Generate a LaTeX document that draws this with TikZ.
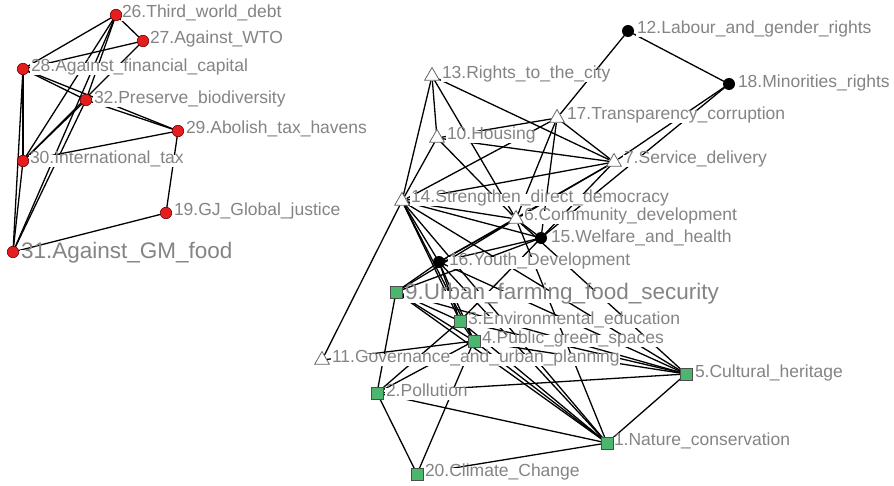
\documentclass[tikz,border=0pt]{standalone}
\usepackage{fontspec}
\setmainfont{Liberation Sans}
\usetikzlibrary{shapes.geometric}
\definecolor{lab}{RGB}{132,132,132}
\definecolor{redn}{RGB}{228,30,30}
\definecolor{greenn}{RGB}{76,182,110}
\tikzset{
 lbl/.style={anchor=west, fill=white, text=lab, inner xsep=0.8pt, inner ysep=1pt, text height=0.8em, text depth=0.22em, font=\fontsize{17.5}{20}\selectfont},
 biglbl/.style={lbl, font=\fontsize{22.5}{26}\selectfont},
 anc/.style={circle, minimum size=10pt, inner sep=0pt},
 rednode/.style={circle, fill=redn, draw=red!45!black, line width=0.6pt, minimum size=11.5pt, inner sep=0pt},
 blknode/.style={circle, fill=black, minimum size=12pt, inner sep=0pt},
 trinode/.style={regular polygon, regular polygon sides=3, fill=white, draw=gray!80!black, line width=0.8pt, minimum size=17pt, inner sep=0pt},
 sqnode/.style={rectangle, fill=greenn, draw=gray!60!black, line width=0.6pt, minimum size=12pt, inner sep=0pt},
 edge/.style={line width=1.3pt, black},
}
\begin{document}
\begin{tikzpicture}[x=1pt,y=-1pt]
\useasboundingbox (0,0) rectangle (894,486);
% node positions (anchors for connectors)
\foreach \n/\x/\y in {26/116/15,27/143/41,28/23/69,32/86/100,29/178/131,30/23/161,19/166/213,31/13/252,
 12/628/31,18/729/84,15/541/238,16/439/262,13/432/76,17/557/118,10/437/138,7/614/162,14/402/201,6/516/219,11/322/360,
 9/396/292,3/460/321,4/474/341,5/686/374,2/377/393,1/607/443,20/417/474}
 \node[anc] (n\n) at (\x,\y) {};
% connectors
\foreach \a/\b in {26/27,26/28,26/32,26/30,26/31,27/28,27/30,28/32,28/29,32/29,28/30,28/31,29/30,29/19,19/31,32/30,32/31,30/31,
 12/17,12/18,18/7,18/15,
 13/10,13/14,13/6,13/7,
 10/14,10/7,10/6,
 17/7,17/14,17/10,17/6,17/15,
 7/14,7/6,7/15,7/16,
 14/6,14/15,14/16,14/11,14/3,14/4,14/5,14/1,
 6/15,6/16,6/9,6/5,6/1,
 15/16,15/9,15/3,
 16/9,16/3,16/4,16/5,16/1,
 9/3,9/4,9/2,9/5,9/1,
 3/4,3/2,3/5,3/1,
 4/11,4/2,4/5,4/1,4/20,
 2/20,2/5,2/1,
 20/1,5/1}
 \draw[edge] (n\a) -- (n\b);
% labels
\node[lbl] (l26) at (121,15) {26.Third\_world\_debt};
\node[lbl] (l27) at (149,41) {27.Against\_WTO};
\node[lbl] (l28) at (30,69) {28.Against\_financial\_capital};
\node[lbl] (l32) at (93,101) {32.Preserve\_biodiversity};
\node[lbl] (l29) at (185,131) {29.Abolish\_tax\_havens};
\node[lbl] (l30) at (29,161) {30.International\_tax};
\node[lbl] (l19) at (173,213) {19.GJ\_Global\_justice};
\node[biglbl] (l31) at (20,256) {31.Against\_GM\_food};
\node[lbl] (l12) at (636,31) {12.Labour\_and\_gender\_rights};
\node[lbl] (l18) at (737,85) {18.Minorities\_rights};
\node[lbl] (l13) at (441,76) {13.Rights\_to\_the\_city};
\node[lbl] (l17) at (566,117) {17.Transparency\_corruption};
\node[lbl] (l10) at (446,137) {10.Housing};
\node[lbl] (l7) at (623,161) {7.Service\_delivery};
\node[lbl] (l14) at (410,200) {14.Strengthen\_direct\_democracy};
\node[lbl] (l6) at (523,217.5) {6.Community\_development};
\node[lbl] (l15) at (550,240) {15.Welfare\_and\_health};
\node[lbl] (l16) at (448,263) {16.Youth\_Development};
\node[biglbl] (l9) at (404,297) {9.Urban\_farming\_food\_security};
\node[lbl] (l3) at (467,322) {3.Environmental\_education};
\node[lbl] (l4) at (481,341) {4.Public\_green\_spaces};
\node[lbl] (l11) at (331,360) {11.Governance\_and\_urban\_planning};
\node[lbl] (l5) at (694,375) {5.Cultural\_heritage};
\node[lbl] (l2) at (385,394) {2.Pollution};
\node[lbl] (l1) at (613,443) {1.Nature\_conservation};
\node[lbl] (l20) at (424,474) {20.Climate\_Change};
% markers
\foreach \n in {26,27,28,32,29,30,19,31} \node[rednode] (m\n) at (n\n) {};
\foreach \n in {12,18,15,16} \node[blknode] (m\n) at (n\n) {};
\foreach \n in {13,17,10,7,14,6,11} \node[trinode] (m\n) at (n\n) {};
\foreach \n in {9,3,4,5,2,1,20} \node[sqnode] (m\n) at (n\n) {};
\end{tikzpicture}
\end{document}
